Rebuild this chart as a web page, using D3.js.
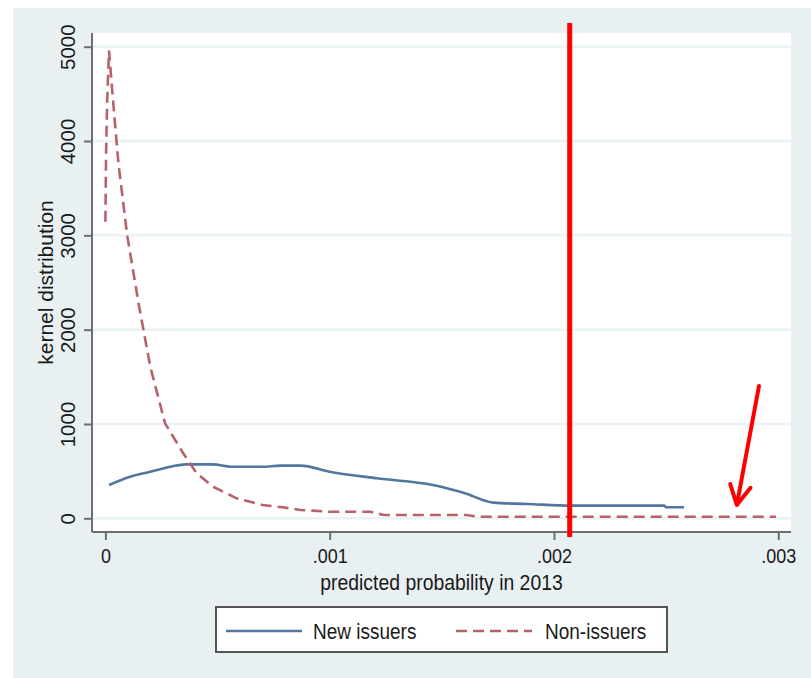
<!DOCTYPE html>
<html>
<head>
<meta charset="utf-8"/>
<script src="https://cdn.jsdelivr.net/npm/d3@7"></script>
<title>kernel distribution</title>
<style>
body { margin: 0; background: #fff; }
svg { display: block; }
text { font-family: "Liberation Sans", Arial, sans-serif; fill: #1a1a1a; }
</style>
</head>
<body>
<script>
// New issuers (solid blue)
var newX = [0.000016, 0.00011, 0.0002, 0.00029, 0.00036, 0.00048, 0.00056, 0.0007, 0.00078, 0.00087, 0.001, 0.00121, 0.00146, 0.0016, 0.00173, 0.00188, 0.00208, 0.00249, 0.0025, 0.00258];
var newY = [353, 441, 494, 547, 572, 572, 547, 547, 558, 558, 494, 424, 353, 268, 166, 152, 134, 134, 117, 117];
// Non-issuers (dashed red)
var nonX = [0.0, 0.000003, 0.000008, 0.000016, 0.000035, 0.000058, 0.000098, 0.00015, 0.0002, 0.000266, 0.000347, 0.000407, 0.00048, 0.000585, 0.0007, 0.00079, 0.00087, 0.001, 0.00118, 0.00124, 0.00161, 0.00166, 0.00299];
var nonY = [3145, 3870, 4436, 4958, 4404, 3764, 2986, 2250, 1608, 1007, 689, 477, 335, 212, 141, 117, 88, 70, 70, 35, 35, 17, 17];

var xTicks = [0, 0.001, 0.002, 0.003];
var xTickLabels = ["0", ".001", ".002", ".003"];
var yTicks = [0, 1000, 2000, 3000, 4000, 5000];
var seriesNames = ["New issuers", "Non-issuers"];

// annotations drawn on top (red marker line + arrow)
var markerX = 0.00207;
var arrowFrom = [0.002914, 1403];
var arrowTo = [0.002815, 141];

var W = 811, H = 678;
var blue = "#52779e", red = "#b5626a";
var sy = 1.15; // the picture is a bit stretched vertically

var svg = d3.select("body").append("svg")
	.attr("width", W)
	.attr("height", H);

// outer panel
svg.append("rect")
	.attr("x", 13).attr("y", 8)
	.attr("width", W - 13).attr("height", H - 8)
	.attr("fill", "#e8f0f2");

var plot = {left: 92, right: 791, top: 33, bottom: 532};

svg.append("rect")
	.attr("x", plot.left).attr("y", plot.top)
	.attr("width", plot.right - plot.left).attr("height", plot.bottom - plot.top)
	.attr("fill", "#fff");

var x = d3.scaleLinear().domain([0, 0.003]).range([105.4, 778.3]);
var y = d3.scaleLinear().domain([0, 5000]).range([518.3, 46.7]);

// grid lines
svg.selectAll("line.grid")
	.data(yTicks)
	.enter().append("line")
	.attr("class", "grid")
	.attr("x1", plot.left).attr("x2", plot.right)
	.attr("y1", function(d){ return y(d); })
	.attr("y2", function(d){ return y(d); })
	.attr("stroke", "#eaf2f3")
	.attr("stroke-width", 2.5);

// y axis
var yAxis = svg.append("g")
	.attr("transform", "translate(" + plot.left + ",0)")
	.call(d3.axisLeft(y).tickValues(yTicks).tickSize(8).tickSizeOuter(0).tickFormat(d3.format("d")));
yAxis.select(".domain").remove();
yAxis.append("line")
	.attr("y1", plot.top).attr("y2", plot.bottom)
	.attr("stroke", "#6e6e6e").attr("stroke-width", 2);
yAxis.selectAll(".tick line").attr("stroke", "#6e6e6e").attr("stroke-width", 2);
yAxis.selectAll(".tick text")
	.attr("x", null).attr("dy", null)
	.attr("text-anchor", "middle")
	.attr("transform", "translate(-17,0) rotate(-90)")
	.style("font-size", "20.5px")
	.style("font-family", "Liberation Sans, Arial, sans-serif")
	.style("fill", "#1a1a1a");

// x axis
var xAxis = svg.append("g")
	.attr("transform", "translate(0," + plot.bottom + ")")
	.call(d3.axisBottom(x).tickValues(xTicks).tickSize(8).tickSizeOuter(0)
		.tickFormat(function(d, i){ return xTickLabels[i]; }));
xAxis.select(".domain").remove();
xAxis.append("line")
	.attr("x1", plot.left).attr("x2", plot.right)
	.attr("stroke", "#6e6e6e").attr("stroke-width", 2);
xAxis.selectAll(".tick line").attr("stroke", "#6e6e6e").attr("stroke-width", 2);
xAxis.selectAll(".tick text")
	.attr("y", null).attr("dy", null)
	.attr("transform", "translate(0,31) scale(1," + sy + ")")
	.style("font-size", "18px")
	.style("font-family", "Liberation Sans, Arial, sans-serif")
	.style("fill", "#1a1a1a");

// axis titles
svg.append("text")
	.attr("text-anchor", "middle")
	.attr("transform", "translate(" + ((plot.left + plot.right) / 2) + ",590) scale(1," + sy + ")")
	.style("font-size", "19.4px")
	.text("predicted probability in 2013");

svg.append("text")
	.attr("text-anchor", "middle")
	.attr("transform", "translate(53," + ((y(0) + y(5000)) / 2) + ") rotate(-90)")
	.style("font-size", "21px")
	.text("kernel distribution");

// lines
var smoothLine = d3.line()
	.curve(d3.curveMonotoneX)
	.x(function(d){ return x(d[0]); })
	.y(function(d){ return y(d[1]); });
var line = d3.line()
	.x(function(d){ return x(d[0]); })
	.y(function(d){ return y(d[1]); });

svg.append("path")
	.datum(d3.zip(newX, newY))
	.attr("d", smoothLine)
	.attr("fill", "none")
	.attr("stroke", blue)
	.attr("stroke-width", 2.6);

svg.append("path")
	.datum(d3.zip(nonX, nonY))
	.attr("d", line)
	.attr("fill", "none")
	.attr("stroke", red)
	.attr("stroke-width", 2.6)
	.attr("stroke-dasharray", "11,6");

// legend
var lg = svg.append("g");
lg.append("rect")
	.attr("x", 216).attr("y", 607)
	.attr("width", 451).attr("height", 45)
	.attr("fill", "#fff")
	.attr("stroke", "#555").attr("stroke-width", 2);
var legendItems = [
	{name: seriesNames[0], color: blue, dash: null, x0: 226, tx: 313},
	{name: seriesNames[1], color: red, dash: "11,6", x0: 456, tx: 545}
];
legendItems.forEach(function(it){
	lg.append("line")
		.attr("x1", it.x0).attr("x2", it.x0 + 76)
		.attr("y1", 631).attr("y2", 631)
		.attr("stroke", it.color).attr("stroke-width", 2.6)
		.attr("stroke-dasharray", it.dash);
	lg.append("text")
		.attr("transform", "translate(" + it.tx + ",638.5) scale(1," + sy + ")")
		.style("font-size", "19px")
		.text(it.name);
});

// red marker line
svg.append("line")
	.attr("x1", x(markerX)).attr("x2", x(markerX))
	.attr("y1", plot.top - 10).attr("y2", plot.bottom + 5)
	.attr("stroke", "#ff0000")
	.attr("stroke-width", 5);

// red arrow
var ax0 = x(arrowFrom[0]), ay0 = y(arrowFrom[1]);
var ax1 = x(arrowTo[0]), ay1 = y(arrowTo[1]);
var ang = Math.atan2(ay0 - ay1, ax0 - ax1);
var headLen = 22, spread = 28 * Math.PI / 180;
var arrow = d3.path();
arrow.moveTo(ax0, ay0);
arrow.lineTo(ax1, ay1);
arrow.moveTo(ax1 + headLen * Math.cos(ang - spread), ay1 + headLen * Math.sin(ang - spread));
arrow.lineTo(ax1, ay1);
arrow.lineTo(ax1 + headLen * Math.cos(ang + spread), ay1 + headLen * Math.sin(ang + spread));
svg.append("path")
	.attr("d", arrow.toString())
	.attr("fill", "none")
	.attr("stroke", "#ff0000")
	.attr("stroke-width", 4)
	.attr("stroke-linecap", "round")
	.attr("stroke-linejoin", "round");
</script>
</body>
</html>
